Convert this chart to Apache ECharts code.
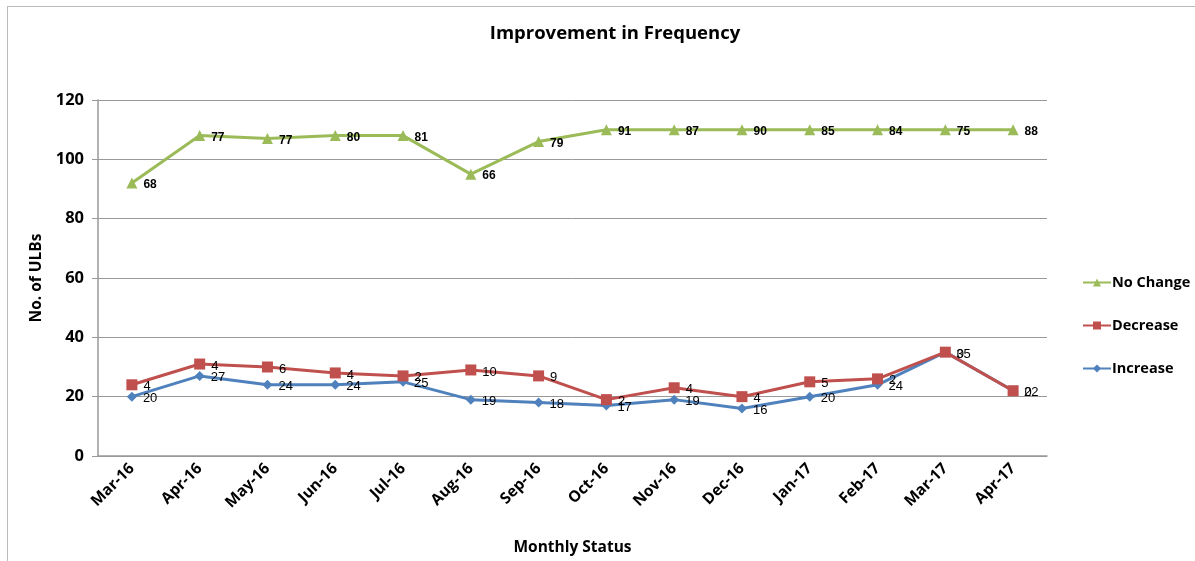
<!DOCTYPE html>
<html>
<head>
<meta charset="utf-8">
<script src="https://cdn.jsdelivr.net/npm/echarts@6/dist/echarts.min.js"></script>
<style>
  html, body { margin: 0; padding: 0; background: #fff; }
  #frame { position: absolute; left: 7px; top: 6px; width: 1200px; height: 570px; border: 1px solid #bbb; box-sizing: border-box; }
  #chart { width: 1195px; height: 561px; position: absolute; left: 0; top: 0; }
</style>
</head>
<body>
<div id="frame"></div>
<div id="chart"></div>
<script>
// months on the x axis
const months = ["Mar-16", "Apr-16", "May-16", "Jun-16", "Jul-16", "Aug-16", "Sep-16",
  "Oct-16", "Nov-16", "Dec-16", "Jan-17", "Feb-17", "Mar-17", "Apr-17"];
// stacked series (Excel stacked line)
const increase = [20, 27, 24, 24, 25, 19, 18, 17, 19, 16, 20, 24, 35, 22];
const decrease = [4, 4, 6, 4, 2, 10, 9, 2, 4, 4, 5, 2, 0, 0];
const noChange = [68, 77, 77, 80, 81, 66, 79, 91, 87, 90, 85, 84, 75, 88];

const chart = echarts.init(document.getElementById("chart"));

const labelFont = "'Liberation Sans', Arial, sans-serif";
const boldFont = "'Open Sans', 'Noto Sans', sans-serif";

function line(name, data, color, symbol, size, bold) {
  return {
    name: name,
    type: "line",
    stack: "total",
    data: data,
    symbol: symbol,
    symbolSize: size,
    lineStyle: { color: color, width: 3 },
    itemStyle: { color: color },
    label: {
      show: true,
      position: "right",
      distance: 6,
      offset: [0, 2],
      color: "#000",
      fontFamily: labelFont,
      fontSize: bold ? 12 : 13,
      fontWeight: bold ? "bold" : "normal"
    },
    animation: false
  };
}

const option = {
  animation: false,
  title: {
    text: "Improvement in Frequency",
    left: 610,
    textAlign: "center",
    top: 19,
    textStyle: { fontFamily: boldFont, fontSize: 18.5, fontWeight: "bold", color: "#000" }
  },
  legend: {
    orient: "vertical",
    left: 1077,
    top: 270,
    itemGap: 28,
    itemWidth: 28,
    itemHeight: 10,
    data: ["No Change", "Decrease", "Increase"],
    textStyle: { fontFamily: boldFont, fontSize: 14.5, fontWeight: "bold", color: "#000", padding: [0, 0, 0, -4] }
  },
  grid: { left: 98, right: 148, top: 100, bottom: 104 },
  xAxis: {
    type: "category",
    data: months,
    boundaryGap: true,
    name: "Monthly Status",
    nameLocation: "middle",
    nameGap: 84,
    nameTextStyle: { fontFamily: boldFont, fontSize: 15.5, fontWeight: "bold", color: "#000" },
    axisLine: { lineStyle: { color: "#999", width: 1.5 } },
    axisTick: { show: false },
    axisLabel: {
      rotate: 45,
      interval: 0,
      margin: 10,
      fontFamily: boldFont,
      fontSize: 15.5,
      fontWeight: "bold",
      color: "#000"
    }
  },
  yAxis: {
    type: "value",
    min: 0,
    max: 120,
    interval: 20,
    name: "No. of ULBs",
    nameLocation: "middle",
    nameGap: 53,
    nameTextStyle: { fontFamily: boldFont, fontSize: 15.5, fontWeight: "bold", color: "#000" },
    axisLine: { show: true, lineStyle: { color: "#999", width: 1.5 } },
    axisTick: { show: true, length: 6, lineStyle: { color: "#999" } },
    splitLine: { lineStyle: { color: "#999", width: 1 } },
    axisLabel: {
      margin: 14,
      fontFamily: boldFont,
      fontSize: 16.5,
      fontWeight: "bold",
      color: "#000"
    }
  },
  series: [
    line("Increase", increase, "#4F81BD", "diamond", 10, false),
    line("Decrease", decrease, "#C0504D", "rect", 11, false),
    line("No Change", noChange, "#9BBB59", "triangle", 11, true)
  ]
};

chart.setOption(option);
</script>
</body>
</html>
